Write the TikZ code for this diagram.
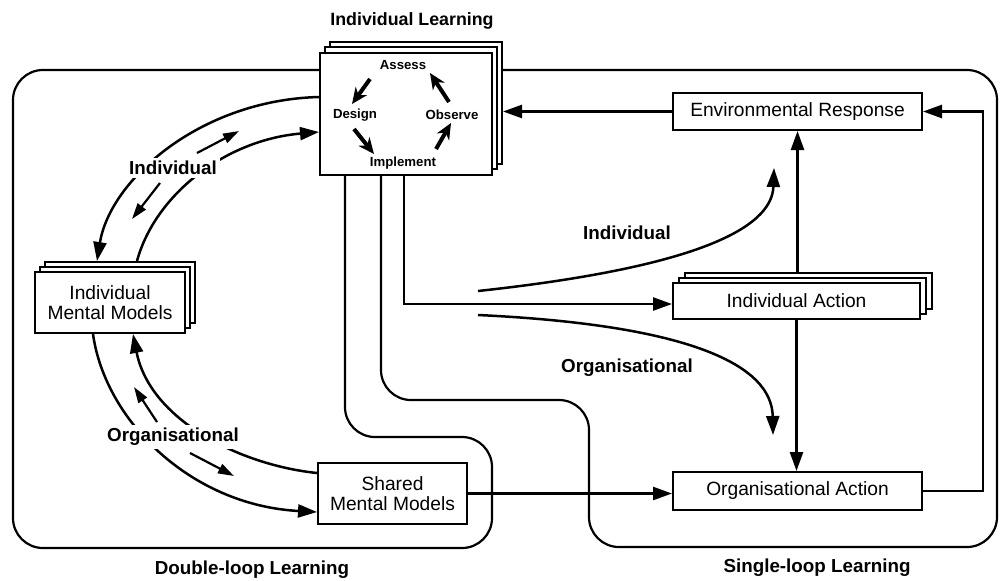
\documentclass[tikz,border=0pt]{standalone}
\usepackage{fontspec}
\setmainfont{Liberation Sans}
\usetikzlibrary{arrows.meta}
\newcommand\bxfont{\fontsize{9.6}{10.2}\selectfont}
\newcommand\lbfont{\fontsize{9.4}{11}\selectfont\bfseries}
\newcommand\ttlfont{\fontsize{8.9}{11}\selectfont\bfseries}
\newcommand\cyfont{\fontsize{6.6}{8}\selectfont\bfseries}
\begin{document}
\begin{tikzpicture}[x=0.5pt,y=-0.5pt,
  box/.style={draw, line width=1pt, fill=white, inner sep=0pt, font=\bxfont, align=center},
  layer/.style={draw, line width=1pt, fill=white, inner sep=0pt},
  region/.style={line width=1.1pt, rounded corners=15pt},
  link/.style={line width=1.25pt},
  arr/.style={link, -{Triangle[length=9.5pt,width=6.5pt]}},
  small/.style={line width=1.1pt, -{Triangle[length=8pt,width=5pt]}},
  cyc/.style={line width=2pt, -{Stealth[length=8pt,width=7pt,inset=2.5pt]}},
  lab/.style={font=\lbfont, fill=white, inner sep=1.5pt},
  cyclab/.style={font=\cyfont, inner sep=0pt}
]
\useasboundingbox (0,0) rectangle (1000,580);

% regions
\draw[region] (320,70) -- (13,70) -- (13,548) -- (492,548) -- (492,437) -- (345,437) -- (345,175);
\draw[region] (502,70) -- (997,70) -- (997,547) -- (589,547) -- (589,400) -- (381,400) -- (381,175);

% Individual Learning box
\node[layer, minimum width=86pt, minimum height=61pt] (ilb2) at (416,103) {};
\node[layer, minimum width=86pt, minimum height=61pt] (ilb1) at (411,108) {};
\node[box, minimum width=86pt, minimum height=61pt] (il) at (406,114) {};
\node[font=\ttlfont] (iltitle) at (412,21) {Individual Learning};
\node[cyclab] (assess) at (403,65) {Assess};
\node[cyclab] (design) at (355,115) {Design};
\node[cyclab] (observe) at (452,115) {Observe};
\node[cyclab] (implement) at (403,163) {Implement};
\coordinate (c1a) at (370,79);  \coordinate (c1b) at (352,104);
\coordinate (c2a) at (354,129); \coordinate (c2b) at (374,154);
\coordinate (c3a) at (436,149); \coordinate (c3b) at (451,123);
\coordinate (c4a) at (449,102); \coordinate (c4b) at (430,73);
\draw[cyc] (c1a) -- (c1b);
\draw[cyc] (c2a) -- (c2b);
\draw[cyc] (c3a) -- (c3b);
\draw[cyc] (c4a) -- (c4b);

% Individual Mental Models
\node[layer, minimum width=75pt, minimum height=30.5pt] (immb2) at (120,292.5) {};
\node[layer, minimum width=75pt, minimum height=30.5pt] (immb1) at (115,297.5) {};
\node[box, minimum width=75pt, minimum height=30.5pt] (imm) at (110,302.5) {Individual\\Mental Models};

% Shared Mental Models
\node[box, minimum width=74.5pt, minimum height=30.5pt] (smm) at (392.5,493.5) {Shared\\Mental Models};

% right boxes
\node[box, minimum width=124.5pt, minimum height=18.5pt] (er) at (797.5,111.5) {Environmental Response};
\node[layer, minimum width=123.5pt, minimum height=18pt] (iab2) at (808.5,291) {};
\node[layer, minimum width=123.5pt, minimum height=18pt] (iab1) at (802.5,296) {};
\node[box, minimum width=123.5pt, minimum height=18pt] (ia) at (796.5,301) {Individual Action};
\node[box, minimum width=124.5pt, minimum height=19pt] (oa) at (797.5,491) {Organisational Action};

% single-loop connectors
\draw[arr] (er.west) -- (er.west -| ilb2.east);
\draw[arr] (oa.east) -- ++(30pt,0) |- (er.east);
\draw[arr] (er.south |- iab2.north) -- (er.south);
\draw[arr] (ia.south) -- (ia.south |- oa.north);
\draw[arr] ([xshift=-1pt]il.south) |- ([yshift=-1.5pt]ia.west);
\draw[arr] (smm.east) -- (smm.east -| oa.west);

% right curves
\coordinate (ri0) at (478,291); \coordinate (ri1) at (774,168);
\draw[arr] (ri0) .. controls (690,268) and (772,230) .. (ri1);
\coordinate (ro0) at (478,315); \coordinate (ro1) at (773,435);
\draw[arr] (ro0) .. controls (690,325) and (772,365) .. (ro1);
\node[lab] (indr) at (627,233) {Individual};
\node[lab] (orgr) at (627,368) {Organisational};

% double-loop: individual
\draw[arr] ([yshift=8.5pt]il.west) .. controls (200,100) and (110,180) .. ([xshift=-11.5pt]immb2.north);
\draw[arr] ([xshift=8.5pt]immb2.north) .. controls (155,195) and (225,140) .. ([yshift=-9pt]il.west);
\coordinate (s1a) at (197,153); \coordinate (s1b) at (239,131);
\coordinate (s2a) at (160,183); \coordinate (s2b) at (132,219);
\draw[small] (s1a) -- (s1b);
\draw[small] (s2a) -- (s2b);
\node[lab] (indl) at (173,168) {Individual};

% double-loop: organisational
\draw[arr] ([xshift=-8.5pt]imm.south) .. controls (105,420) and (190,505) .. ([yshift=-9.25pt]smm.west);
\draw[arr] ([yshift=10.25pt]smm.west) .. controls (240,465) and (150,420) .. ([xshift=11.5pt]imm.south);
\coordinate (s3a) at (157,422); \coordinate (s3b) at (134,387);
\coordinate (s4a) at (190,453); \coordinate (s4b) at (234,476);
\draw[small] (s3a) -- (s3b);
\draw[small] (s4a) -- (s4b);
\node[lab] (orgl) at (173,437) {Organisational};

% bottom labels
\node[font=\lbfont] (dll) at (252,570) {Double-loop Learning};
\node[font=\lbfont] (sll) at (817,568) {Single-loop Learning};
\end{tikzpicture}
\end{document}
